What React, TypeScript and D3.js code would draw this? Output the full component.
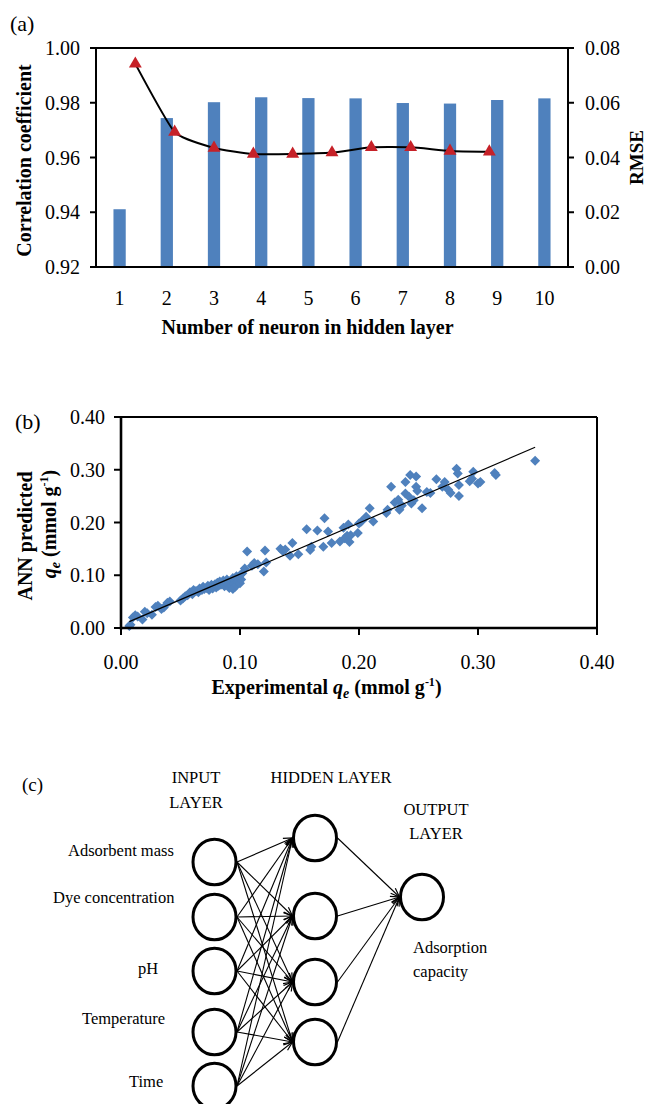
import * as d3 from 'd3';

// (a) network size study
const neurons = ['1', '2', '3', '4', '5', '6', '7', '8', '9', '10'];
const correlation = [0.9411, 0.9744, 0.9802, 0.982, 0.9817, 0.9816, 0.9799, 0.9797, 0.981, 0.9816];
const rmse = [0.0742, 0.0493, 0.0435, 0.0413, 0.0413, 0.0418, 0.0437, 0.0437, 0.0424, 0.0421];
const corrTicks = [0.92, 0.94, 0.96, 0.98, 1.0];
const rmseTicks = [0, 0.02, 0.04, 0.06, 0.08];

// (b) experimental vs predicted qe
const qeExperimental = [
  0.007, 0.008, 0.010, 0.012, 0.014, 0.018, 0.020, 0.022, 0.026, 0.029, 0.031, 0.034, 0.036, 0.039, 0.041,
  0.050, 0.052, 0.054, 0.056, 0.058, 0.060, 0.061, 0.063, 0.065, 0.066, 0.068, 0.069, 0.070, 0.072, 0.073,
  0.074, 0.075, 0.076, 0.077, 0.078, 0.079, 0.080, 0.081, 0.082, 0.083, 0.084, 0.085, 0.086, 0.087, 0.088,
  0.089, 0.090, 0.091, 0.092, 0.093, 0.094, 0.094, 0.095, 0.096, 0.096, 0.097, 0.097, 0.098, 0.098, 0.099,
  0.100, 0.100, 0.101, 0.102, 0.104, 0.106, 0.110, 0.112, 0.115, 0.120, 0.121, 0.122,
  0.134, 0.136, 0.138, 0.142, 0.144, 0.149, 0.156, 0.159, 0.160, 0.165, 0.170, 0.171, 0.174, 0.177, 0.184,
  0.187, 0.188, 0.190, 0.191, 0.192, 0.193, 0.199, 0.200, 0.202, 0.206, 0.209, 0.212, 0.223, 0.224, 0.227,
  0.230, 0.233, 0.234, 0.236, 0.239, 0.239, 0.242, 0.243, 0.244, 0.246, 0.248, 0.248, 0.249, 0.253, 0.257,
  0.260, 0.265, 0.270, 0.272, 0.275, 0.277, 0.282, 0.283, 0.284, 0.284, 0.293, 0.295, 0.296, 0.300, 0.302,
  0.314, 0.315, 0.348,
];
const qePredicted = [
  0.004, 0.006, 0.020, 0.024, 0.022, 0.016, 0.031, 0.028, 0.025, 0.040, 0.042, 0.036, 0.039, 0.048, 0.050,
  0.052, 0.056, 0.060, 0.062, 0.068, 0.064, 0.072, 0.070, 0.068, 0.075, 0.072, 0.078, 0.074, 0.076, 0.080,
  0.072, 0.078, 0.082, 0.075, 0.080, 0.083, 0.077, 0.086, 0.080, 0.088, 0.082, 0.085, 0.090, 0.079, 0.087,
  0.092, 0.083, 0.076, 0.088, 0.080, 0.095, 0.074, 0.085, 0.090, 0.078, 0.098, 0.082, 0.088, 0.093, 0.096,
  0.100, 0.085, 0.092, 0.104, 0.113, 0.145, 0.118, 0.123, 0.121, 0.107, 0.147, 0.124,
  0.150, 0.146, 0.149, 0.137, 0.161, 0.140, 0.187, 0.148, 0.154, 0.185, 0.154, 0.208, 0.183, 0.161, 0.164,
  0.190, 0.170, 0.175, 0.196, 0.163, 0.176, 0.180, 0.198, 0.202, 0.211, 0.227, 0.202, 0.218, 0.224, 0.268,
  0.238, 0.243, 0.224, 0.232, 0.277, 0.255, 0.249, 0.290, 0.236, 0.242, 0.287, 0.268, 0.260, 0.227, 0.258,
  0.256, 0.282, 0.268, 0.277, 0.262, 0.256, 0.302, 0.293, 0.271, 0.250, 0.278, 0.283, 0.296, 0.274, 0.277,
  0.294, 0.290, 0.317,
];
const qeTicks = [0, 0.1, 0.2, 0.3, 0.4];

// (c) network diagram
const inputLabels = ['Adsorbent mass', 'Dye concentration', 'pH', 'Temperature', 'Time'];
const hiddenNodes = ['h1', 'h2', 'h3', 'h4'];
const outputLabel = ['Adsorption', 'capacity'];

const FONT = "'Liberation Serif', 'Times New Roman', serif";
const BLUE = '#4F81BD';
const RED = '#C62128';

// diagram layout (pixel positions)
const inputY = [862, 917, 971, 1032, 1086];
const hiddenY = [838, 916, 982, 1042];
const inputLabelX = [68, 53, 138, 82, 129];
const inputLabelBase = [856, 903, 974, 1024, 1087];
const NODE = { inX: 214.5, hidX: 315, outX: 422, outY: 897, rx: 21.5, ry: 22.8 };

export default function App() {
  const A = { left: 96, right: 568, top: 48, bottom: 267 };
  const xBand = d3.scaleBand().domain(neurons).range([A.left, A.right]).padding(0);
  const barW = xBand.bandwidth() * 0.26;
  const yCorr = d3.scaleLinear().domain([0.92, 1]).range([A.bottom, A.top]);
  const yRmse = d3.scaleLinear().domain([0, 0.08]).range([A.bottom, A.top]);
  const xLine = d3.scaleLinear().domain([0, 12]).range([A.left, A.right]);
  const rmsePath = d3
    .line<number>()
    .x((_, i) => xLine(i + 1))
    .y((d) => yRmse(d))
    .curve(d3.curveCardinal.tension(0.5))(rmse);
  const triangle = d3.symbol().type(d3.symbolTriangle).size(72)() as string;

  const B = { left: 121, right: 597, top: 417, bottom: 628 };
  const xQ = d3.scaleLinear().domain([0, 0.4]).range([B.left, B.right]);
  const yQ = d3.scaleLinear().domain([0, 0.4]).range([B.bottom, B.top]);
  const diamond = d3.symbol().type(d3.symbolSquare).size(50)() as string;

  // linear trendline fitted to the points
  const mx = d3.mean(qeExperimental) as number;
  const my = d3.mean(qePredicted) as number;
  const sxy = d3.sum(qeExperimental, (x, i) => (x - mx) * (qePredicted[i] - my));
  const sxx = d3.sum(qeExperimental, (x) => (x - mx) * (x - mx));
  const slope = sxy / sxx;
  const intercept = my - slope * mx;
  const [xMin, xMax] = d3.extent(qeExperimental) as [number, number];

  const fmt2 = d3.format('.2f');

  return (
    <svg
      width={646}
      height={1104}
      style={{ position: 'absolute', left: 0, top: 0, background: '#fff' }}
      fontFamily={FONT}
    >
      <defs>
        <marker id="arrow" viewBox="-10 -6 12 12" refX={0} refY={0} markerWidth={12} markerHeight={12} markerUnits="userSpaceOnUse" orient="auto">
          <path d="M-9,-3.4L0,0L-9,3.4" fill="none" stroke="#000" strokeWidth={1.2} />
        </marker>
      </defs>

      {/* ---------- (a) ---------- */}
      <text x={10} y={31} fontSize={22}>(a)</text>
      {neurons.map((n, i) => (
        <rect
          key={n}
          x={(xBand(n) as number) + xBand.bandwidth() / 2 - barW / 2}
          y={yCorr(correlation[i])}
          width={barW}
          height={A.bottom - yCorr(correlation[i])}
          fill={BLUE}
        />
      ))}
      <path d={rmsePath as string} fill="none" stroke="#000" strokeWidth={2} />
      {rmse.map((v, i) => (
        <path key={i} d={triangle} transform={`translate(${xLine(i + 1)},${yRmse(v)})`} fill={RED} />
      ))}
      <rect x={A.left} y={A.top} width={A.right - A.left} height={A.bottom - A.top} fill="none" stroke="#000" strokeWidth={2} />
      {corrTicks.map((t) => (
        <g key={t}>
          <line x1={A.left - 6} x2={A.left} y1={yCorr(t)} y2={yCorr(t)} stroke="#000" strokeWidth={2} />
          <text x={80} y={yCorr(t)} dy="0.35em" textAnchor="end" fontSize={20}>{fmt2(t)}</text>
        </g>
      ))}
      {rmseTicks.map((t) => (
        <g key={t}>
          <line x1={A.right} x2={A.right + 6} y1={yRmse(t)} y2={yRmse(t)} stroke="#000" strokeWidth={2} />
          <text x={585} y={yRmse(t)} dy="0.35em" fontSize={20}>{fmt2(t)}</text>
        </g>
      ))}
      {neurons.map((n) => (
        <text key={n} x={(xBand(n) as number) + xBand.bandwidth() / 2} y={305} textAnchor="middle" fontSize={20}>{n}</text>
      ))}
      <text x={307.5} y={334} textAnchor="middle" fontSize={20} fontWeight="bold">Number of neuron in hidden layer</text>
      <text transform={`translate(31,${(A.top + A.bottom) / 2 + 3}) rotate(-90)`} textAnchor="middle" fontSize={20} fontWeight="bold">Correlation coefficient</text>
      <text transform={`translate(643,${(A.top + A.bottom) / 2}) rotate(-90)`} textAnchor="middle" fontSize={19} fontWeight="bold">RMSE</text>

      {/* ---------- (b) ---------- */}
      <text x={15} y={429} fontSize={22}>(b)</text>
      {qeExperimental.map((x, i) => (
        <path key={i} d={diamond} transform={`translate(${xQ(x)},${yQ(qePredicted[i])}) rotate(45)`} fill={BLUE} />
      ))}
      <line x1={xQ(xMin)} y1={yQ(intercept + slope * xMin)} x2={xQ(xMax)} y2={yQ(intercept + slope * xMax)} stroke="#000" strokeWidth={1.2} />
      <line x1={B.left} x2={B.right} y1={B.top} y2={B.top} stroke="#000" strokeWidth={2} />
      <line x1={B.right} x2={B.right} y1={B.top} y2={B.bottom} stroke="#000" strokeWidth={2} />
      <line x1={B.left} x2={B.left} y1={B.top - 1} y2={B.bottom + 1.5} stroke="#000" strokeWidth={2.6} />
      <line x1={B.left - 1} x2={B.right + 1} y1={B.bottom} y2={B.bottom} stroke="#000" strokeWidth={2.6} />
      {qeTicks.map((t) => (
        <g key={'x' + t}>
          <line x1={xQ(t)} x2={xQ(t)} y1={B.bottom} y2={B.bottom + 7} stroke="#000" strokeWidth={2} />
          <text x={xQ(t)} y={669} textAnchor="middle" fontSize={20}>{fmt2(t)}</text>
        </g>
      ))}
      {qeTicks.map((t) => (
        <g key={'y' + t}>
          <line x1={B.left - 7} x2={B.left} y1={yQ(t)} y2={yQ(t)} stroke="#000" strokeWidth={2} />
          <text x={105} y={yQ(t)} dy="0.35em" textAnchor="end" fontSize={20}>{fmt2(t)}</text>
        </g>
      ))}
      <text x={326.5} y={694} textAnchor="middle" fontSize={20} fontWeight="bold">
        Experimental <tspan fontStyle="italic">q</tspan>
        <tspan fontStyle="italic" fontSize={14} dy={4}>e</tspan>
        <tspan dy={-4}> (mmol g</tspan>
        <tspan fontSize={12} dy={-8}>-1</tspan>
        <tspan dy={8}>)</tspan>
      </text>
      <text transform="translate(32,536) rotate(-90)" textAnchor="middle" fontSize={20} fontWeight="bold">ANN predicted</text>
      <text transform="translate(56,524) rotate(-90)" textAnchor="middle" fontSize={20} fontWeight="bold">
        <tspan fontStyle="italic">q</tspan>
        <tspan fontStyle="italic" fontSize={14} dy={4}>e</tspan>
        <tspan dy={-4}> (mmol g</tspan>
        <tspan fontSize={12} dy={-8}>-1</tspan>
        <tspan dy={8}>)</tspan>
      </text>

      {/* ---------- (c) ---------- */}
      <text x={22} y={791} fontSize={19}>(c)</text>
      <text x={196} y={782.5} textAnchor="middle" fontSize={16.5}>INPUT</text>
      <text x={196} y={807.5} textAnchor="middle" fontSize={16.5}>LAYER</text>
      <text x={331} y={782.5} textAnchor="middle" fontSize={16.5}>HIDDEN LAYER</text>
      <text x={436} y={815} textAnchor="middle" fontSize={16.5}>OUTPUT</text>
      <text x={436} y={839} textAnchor="middle" fontSize={16.5}>LAYER</text>
      {inputLabels.map((l, i) => (
        <text key={l} x={inputLabelX[i]} y={inputLabelBase[i]} fontSize={16.5}>{l}</text>
      ))}
      {outputLabel.map((l, i) => (
        <text key={l} x={413} y={952.5 + i * 24} fontSize={16.5}>{l}</text>
      ))}
      {inputY.map((iy, i) =>
        hiddenY.map((hy, j) => (
          <line
            key={`${i}-${j}`}
            x1={NODE.inX + NODE.rx + 1}
            y1={iy}
            x2={NODE.hidX - NODE.rx - 1}
            y2={hy}
            stroke="#000"
            strokeWidth={1.1}
            markerEnd="url(#arrow)"
          />
        ))
      )}
      {hiddenY.map((hy, j) => (
        <line
          key={'o' + j}
          x1={NODE.hidX + NODE.rx + 1}
          y1={hy}
          x2={NODE.outX - NODE.rx - 1}
          y2={NODE.outY}
          stroke="#000"
          strokeWidth={1.1}
          markerEnd="url(#arrow)"
        />
      ))}
      {inputY.map((iy, i) => (
        <ellipse key={'in' + i} cx={NODE.inX} cy={iy} rx={NODE.rx} ry={NODE.ry} fill="#fff" stroke="#000" strokeWidth={3} />
      ))}
      {hiddenNodes.map((h, j) => (
        <ellipse key={h} cx={NODE.hidX} cy={hiddenY[j]} rx={NODE.rx} ry={NODE.ry} fill="#fff" stroke="#000" strokeWidth={3} />
      ))}
      <ellipse cx={NODE.outX} cy={NODE.outY} rx={NODE.rx} ry={NODE.ry} fill="#fff" stroke="#000" strokeWidth={3} />
    </svg>
  );
}
